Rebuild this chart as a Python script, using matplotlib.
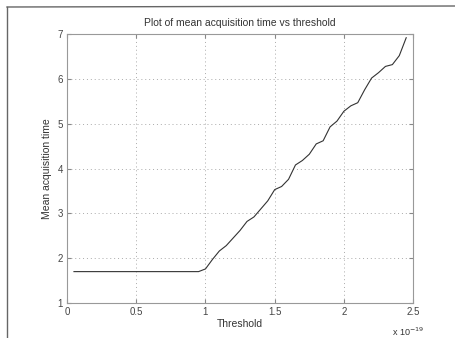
import matplotlib.pyplot as plt
from matplotlib.lines import Line2D

# Mean acquisition time vs threshold (threshold in units of 1e-19)
threshold = [0.05, 0.95, 1.0, 1.05, 1.1, 1.15, 1.2, 1.25, 1.3, 1.35, 1.4, 1.45,
             1.5, 1.55, 1.6, 1.65, 1.7, 1.75, 1.8, 1.85, 1.9, 1.95, 2.0, 2.05,
             2.1, 2.15, 2.2, 2.25, 2.3, 2.35, 2.4, 2.45]
acq_time = [1.70, 1.70, 1.76, 1.97, 2.16, 2.28, 2.45, 2.62, 2.82, 2.92, 3.10, 3.28,
            3.53, 3.60, 3.76, 4.08, 4.18, 4.32, 4.55, 4.62, 4.93, 5.06, 5.28, 5.40,
            5.47, 5.76, 6.02, 6.14, 6.28, 6.32, 6.52, 6.92]

x_ticks = [0, 0.5, 1, 1.5, 2, 2.5]
y_ticks = [1, 2, 3, 4, 5, 6, 7]

plt.rcParams['font.family'] = ['Liberation Sans', 'DejaVu Sans']
plt.rcParams['font.size'] = 7

fig = plt.figure(figsize=(4.56, 3.38), dpi=100)
ax = fig.add_axes([0.147, 0.1036, 0.759, 0.7954])

ax.plot(threshold, acq_time, color='#333333', linewidth=0.8)

ax.set_xlim(0, 2.5)
ax.set_ylim(1, 7)
ax.set_xticks(x_ticks)
ax.set_xticklabels(['0', '0.5', '1', '1.5', '2', '2.5'])
ax.set_yticks(y_ticks)
ax.grid(True, linestyle=(0, (1, 3)), color='#aaaaaa', linewidth=0.7)
ax.tick_params(direction='in', top=True, right=True, length=3,
               color='#888888', labelcolor='#444444', pad=3)
for s in ax.spines.values():
    s.set_color('#999999')
    s.set_linewidth(0.8)

ax.set_title('Plot of mean acquisition time vs threshold', fontsize=7.5,
             color='#333333', pad=6)
ax.set_xlabel('Threshold', fontsize=7.5, color='#333333', labelpad=1)
ax.set_ylabel('Mean acquisition time', fontsize=7.5, color='#333333', labelpad=4)
ax.text(0.985, -0.085, r'x 10$^{-19}$', transform=ax.transAxes,
        ha='center', va='top', fontsize=6.5, color='#333333')

# scanned page border
fig.add_artist(Line2D([7 / 456, 7 / 456], [0, 1 - 7 / 338],
                      transform=fig.transFigure, color='#666666', linewidth=1))
fig.add_artist(Line2D([7 / 456, 1], [1 - 7 / 338, 1 - 6 / 338],
                      transform=fig.transFigure, color='#666666', linewidth=1))

fig.savefig('out.png', dpi=100)
